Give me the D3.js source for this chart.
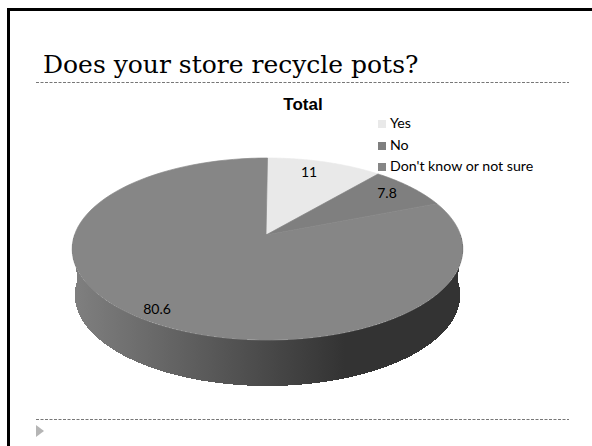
<!DOCTYPE html>
<html>
<head>
<meta charset="utf-8">
<script src="https://cdn.jsdelivr.net/npm/d3@7"></script>
<style>
  html, body { margin: 0; padding: 0; background: #fff; }
  svg { display: block; }
</style>
</head>
<body>
<div id="chart"></div>
<script>
const categories = ['Yes', 'No', "Don't know or not sure"];
const values = [11, 7.8, 80.6];
const valueLabels = ['11', '7.8', '80.6'];
const colors = ['#e9e9e9', '#7f7f7f', '#868686'];

const svg = d3.select('#chart').append('svg')
    .attr('width', 592)
    .attr('height', 446);

// Slide frame and rules
svg.append('rect')
    .attr('x', 8.5).attr('y', 9.5).attr('width', 600).attr('height', 460)
    .attr('fill', 'none').attr('stroke', '#000').attr('stroke-width', 3);

[82.5, 419.5].forEach(y => {
  svg.append('line')
      .attr('x1', 36).attr('x2', 569).attr('y1', y).attr('y2', y)
      .attr('stroke', '#777').attr('stroke-dasharray', '3,1.5');
});

svg.append('text')
    .attr('x', 43).attr('y', 73)
    .attr('font-family', '"DejaVu Serif", serif')
    .attr('font-size', 25)
    .text('Does your store recycle pots?');

svg.append('path')
    .attr('d', 'M36,425L44,431L36,437Z')
    .attr('fill', '#b5b5b5');

// Perspective view of the pie disc, centre at (266, 235)
const k = 0.154;
function project(angle, cy, rScale) {
  const u = Math.sin(angle), v = -Math.cos(angle);
  const w = 1 - k * v;
  return [267.5 + rScale * u / w, cy + 88.85 * v / w];
}

const pie = d3.pie().sort(null)(values);
const line = d3.line();

function slicePath(d) {
  const steps = d3.range(0, 101).map(i => d.startAngle + (d.endAngle - d.startAngle) * i / 100);
  const pts = steps.map(a => project(a, 235, 193));
  return line([[266, 235], ...pts]) + 'Z';
}

// Side wall
const defs = svg.append('defs');
const grad = defs.append('linearGradient')
    .attr('id', 'side').attr('gradientUnits', 'userSpaceOnUse')
    .attr('x1', 72).attr('x2', 345).attr('y1', 0).attr('y2', 0);
grad.append('stop').attr('offset', 0).attr('stop-color', '#808080');
grad.append('stop').attr('offset', 1).attr('stop-color', '#333333');

const frontAngles = d3.range(90, 271, 2).map(a => a * Math.PI / 180);
const upper = frontAngles.map(a => project(a, 235, 193));
const lower = frontAngles.map(a => project(a, 281, 190.5)).reverse();
svg.append('path')
    .attr('d', line([...upper, ...lower]) + 'Z')
    .attr('fill', 'url(#side)')
    .attr('shape-rendering', 'crispEdges');

// Top face
svg.selectAll('path.slice')
  .data(pie)
  .join('path')
    .attr('class', 'slice')
    .attr('d', slicePath)
    .attr('fill', (d, i) => colors[i])
    .attr('stroke', (d, i) => colors[i])
    .attr('stroke-width', 0.7);

// Value labels
const labelPos = [[309, 173], [387, 194], [157, 310]];
svg.selectAll('text.value')
  .data(valueLabels)
  .join('text')
    .attr('class', 'value')
    .attr('x', (d, i) => labelPos[i][0])
    .attr('y', (d, i) => labelPos[i][1])
    .attr('text-anchor', 'middle')
    .attr('dominant-baseline', 'middle')
    .attr('font-family', 'Lato, sans-serif')
    .attr('font-size', 14)
    .attr('fill', '#000')
    .text(d => d);

// Chart title
svg.append('text')
    .attr('x', 303).attr('y', 110)
    .attr('text-anchor', 'middle')
    .attr('font-family', '"Liberation Sans", sans-serif')
    .attr('font-size', 17)
    .attr('font-weight', 'bold')
    .text('Total');

// Legend
const legendY = [124, 146, 167];
const legend = svg.selectAll('g.legend')
  .data(categories)
  .join('g')
    .attr('class', 'legend')
    .attr('transform', (d, i) => `translate(378,${legendY[i]})`);
legend.append('rect')
    .attr('x', 0).attr('y', -4).attr('width', 8).attr('height', 8)
    .attr('fill', (d, i) => colors[i]);
legend.append('text')
    .attr('x', 12)
    .attr('dominant-baseline', 'middle')
    .attr('font-family', 'Lato, sans-serif')
    .attr('font-size', 14.2)
    .attr('fill', '#000')
    .text(d => d);
</script>
</body>
</html>
